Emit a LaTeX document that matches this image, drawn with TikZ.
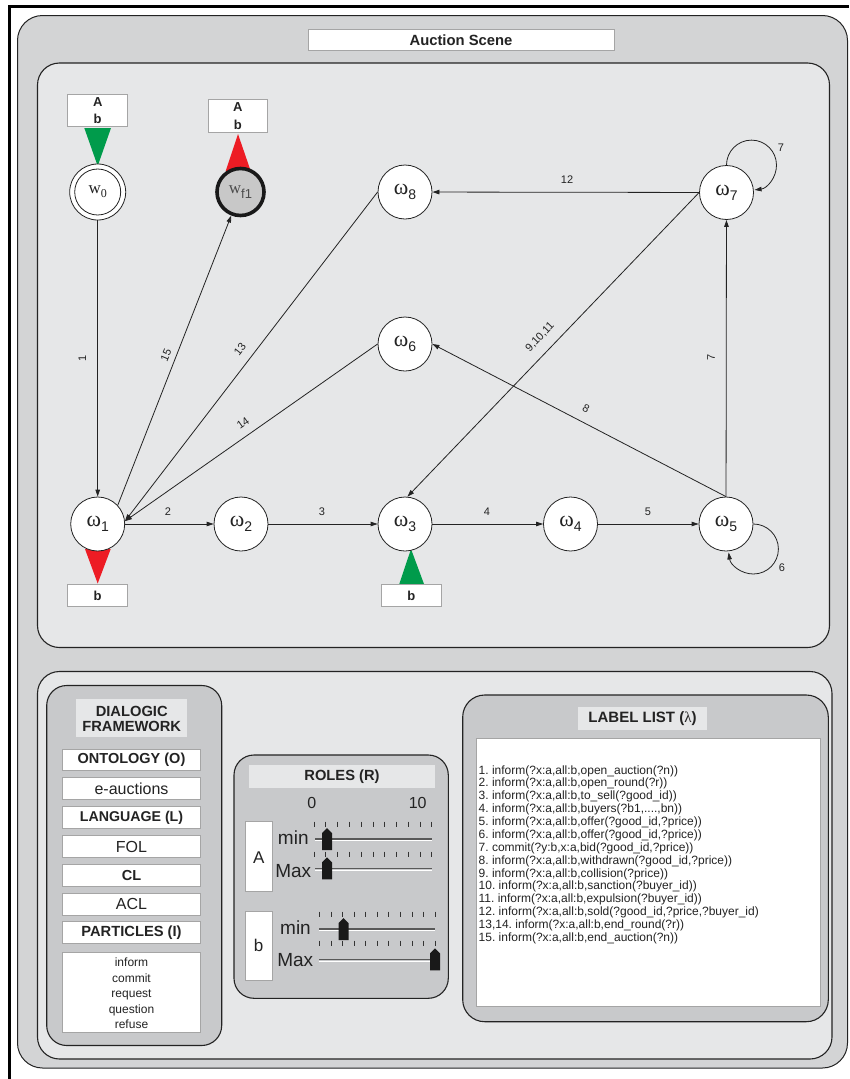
\documentclass[tikz,border=0pt]{standalone}
\usepackage{fontspec}
\setmainfont{Liberation Sans}
\newfontfamily\serifgr{Liberation Serif}
\usetikzlibrary{arrows.meta}
\frenchspacing
\definecolor{outerg}{RGB}{211,212,213}
\definecolor{lightg}{RGB}{230,231,232}
\definecolor{midg}{RGB}{200,201,203}
\definecolor{gfill}{RGB}{0,155,75}
\definecolor{rfill}{RGB}{237,28,36}
\definecolor{wfg}{RGB}{200,200,200}
\definecolor{boxedge}{RGB}{165,165,165}
\definecolor{linec}{RGB}{35,35,35}
\newcommand\omg[1]{{\serifgr\fontsize{22}{22}\selectfont ω}\raisebox{-5pt}{\fontsize{14}{14}\selectfont #1}}
\newcommand\sliderthumb[2]{\fill[black!90] (#1-5,#2+11) -- (#1-5,#2-6) -- (#1,#2-11) -- (#1+5,#2-6) -- (#1+5,#2+11) -- cycle;}
\begin{document}
\begin{tikzpicture}[x=1pt,y=-1pt,
  panel/.style={draw=linec, line width=1.1pt, rounded corners=22pt},
  wbox/.style={draw=boxedge, fill=white, line width=0.8pt},
  tbox/.style={fill=lightg},
  state/.style={circle, draw=linec, fill=white, line width=0.8pt, minimum size=54pt, inner sep=0pt, text=linec},
  edge/.style={draw=linec, line width=0.8pt, -{Triangle[length=7pt,width=4.5pt]}},
  elab/.style={font=\fontsize{11}{11}\selectfont, inner sep=0pt, text=linec},
  bold/.style={font=\bfseries\fontsize{#1}{#1}\selectfont, inner sep=0pt, text=linec},
  reg/.style={font=\fontsize{#1}{#1}\selectfont, inner sep=0pt, text=linec},
  track/.style={draw=black!65, line width=1.2pt},
  tick/.style={draw=black!80, line width=0.7pt}
]
\path[use as bounding box] (0,0) rectangle (849,1079);
% frame
\draw[line width=3pt] (9.5,1079) -- (9.5,6) -- (849,6);
% panels
\draw[panel, fill=outerg, line width=1pt, rounded corners=25pt] (17.5,15.5) rectangle (847.5,1068);
\draw[wbox] (308.5,29) rectangle (614,50.5);
\node[bold=14.8] (title) at (461,40) {Auction Scene};
\draw[panel, fill=lightg] (37.5,63) rectangle (829.5,647.5);
\draw[panel, fill=lightg] (37.5,671.5) rectangle (832,1059);

% role label boxes and triangles
\fill[gfill] (84.3,128) -- (111,128) -- (97.7,166) -- cycle;
\draw[wbox] (67.7,94) rectangle (127.7,126.7);
\node[bold=13] (a0) at (97.7,101.7) {A};
\node[bold=13] (b0) at (97.7,118.7) {b};
\fill[rfill] (225.7,171) -- (250.7,171) -- (238,134) -- cycle;
\draw[wbox] (208,99) rectangle (267.7,132.7);
\node[bold=13] (af) at (237.8,107.3) {A};
\node[bold=13] (bf) at (237.8,124.5) {b};
\fill[rfill] (85,549) -- (110.7,549) -- (97.7,583.5) -- cycle;
\draw[wbox] (67.7,584) rectangle (127.7,606.7);
\node[bold=13] (b1) at (97.7,595.5) {b};
\fill[gfill] (399.3,584) -- (424,584) -- (411,549) -- cycle;
\draw[wbox] (381.7,584) rectangle (441,606.7);
\node[bold=13] (b3) at (411.3,595.5) {b};

% states
\node[state, minimum size=56pt] (w0) at (97.7,192) {};
\node[state, minimum size=46pt] (w0i) at (97.7,192) {{\serifgr\fontsize{17}{17}\selectfont w\raisebox{-4pt}{\fontsize{12}{12}\selectfont 0}}};
\node[state, fill=wfg, line width=3.6pt, draw=black!90, minimum size=47pt, text=black!70] (wf1) at (240.5,192) {{\serifgr\fontsize{17}{17}\selectfont w}\raisebox{-5pt}{\fontsize{13}{13}\selectfont f1}};
\node[state] (w8) at (405,192) {\omg{8}};
\node[state] (w7) at (726.5,192.5) {\omg{7}};
\node[state] (w6) at (405,344) {\omg{6}};
\node[state] (w1) at (97.7,524) {\omg{1}};
\node[state] (w2) at (241,524) {\omg{2}};
\node[state] (w3) at (405,524) {\omg{3}};
\node[state] (w4) at (570.5,524) {\omg{4}};
\node[state] (w5) at (726,524) {\omg{5}};

% edges
\draw[edge] (w0) -- (w1);
\draw[edge] (w1.43) -- (wf1);
\draw[edge] (w8.west) -- (w1.6);
\draw[edge] (w6.west) -- (w1.6);
\draw[edge] (w1) -- (w2);
\draw[edge] (w2) -- (w3);
\draw[edge] (w3) -- (w4);
\draw[edge] (w4) -- (w5);
\draw[edge] (w5) -- (w7);
\draw[edge] (w5.north) -- (w6.east);
\draw[edge] (w7.west) -- (w3.85);
\draw[edge] (w7) -- (w8);
\draw[edge] (w5.east) arc[start angle=-90, end angle=172, radius=25];
\draw[edge] (w7.north) arc[start angle=180, end angle=443, radius=25];

% edge labels
\node[elab, rotate=90] (e1) at (82.3,358) {1};
\node[elab, rotate=67] (e15) at (166,355) {15};
\node[elab, rotate=52] (e13) at (240,349) {13};
\node[elab, rotate=35] (e14) at (243,423) {14};
\node[elab, rotate=46] (e9) at (540,337) {9,10,11};
\node[elab, rotate=-27.5] (e8) at (586,409) {8};
\node[elab, rotate=90] (e7) at (711,357) {7};
\node[elab] (e12) at (567,180) {12};
\node[elab] (e2) at (168,512) {2};
\node[elab] (e3) at (322,512) {3};
\node[elab] (e4) at (487,512) {4};
\node[elab] (e5) at (648,512) {5};
\node[elab] (e7l) at (781,148) {7};
\node[elab] (e6l) at (782,568) {6};

% dialogic framework
\draw[panel, fill=midg, rounded corners=20pt] (46.7,685.5) rectangle (221.7,1045.5);
\fill[tbox] (76,699.3) rectangle (187.3,736.7);
\node[bold=14.7, align=center] (dft) at (131.7,719) {DIALOGIC\\[-0.5pt]FRAMEWORK};
\draw[wbox] (62.3,749) rectangle (200.7,770.7);
\node[bold=14.5] (ont) at (131.5,760) {ONTOLOGY (O)};
\draw[wbox] (62.3,777.7) rectangle (200.7,799.3);
\node[reg=16] (eauc) at (131.5,788.5) {e-auctions};
\draw[wbox] (62.3,806.7) rectangle (200.7,828.3);
\node[bold=14.2] (lang) at (131.5,817.5) {LANGUAGE (L)};
\draw[wbox] (62.3,835.7) rectangle (200.7,857.3);
\node[reg=16] (fol) at (131.5,846.5) {FOL};
\draw[wbox] (62.3,864.3) rectangle (200.7,886);
\node[bold=14.5] (cl) at (131.5,875.2) {CL};
\draw[wbox] (62.3,893.3) rectangle (200.7,915);
\node[reg=16] (acl) at (131.5,904.2) {ACL};
\draw[wbox] (62.3,921.7) rectangle (200.7,943.3);
\node[bold=14.7] (part) at (131.5,932.5) {PARTICLES (I)};
\draw[wbox] (62.3,952.7) rectangle (200.7,1032.7);
\begin{scope}[every node/.style={reg=12, anchor=base}]
\node (p1) at (131.5,966.6) {inform};
\node (p2) at (131.5,982.1) {commit};
\node (p3) at (131.5,997.6) {request};
\node (p4) at (131.5,1013.1) {question};
\node (p5) at (131.5,1028.6) {refuse};
\end{scope}

% roles
\draw[panel, fill=midg, rounded corners=20pt] (234,755) rectangle (448.3,998.3);
\fill[tbox] (249,765) rectangle (435,788.3);
\node[bold=14.7] (rt) at (342,776.7) {ROLES (R)};
\node[reg=16] (s0) at (311.7,803.3) {0};
\node[reg=16] (s10) at (417.7,803.3) {10};
\draw[wbox] (245,821.7) rectangle (272.3,891);
\node[reg=17] (ra) at (258.7,858) {A};
\draw[wbox] (245,911) rectangle (272.3,980);
\node[reg=17] (rb) at (258.7,945) {b};
\node[reg=19] (amin) at (293.3,838) {min};
\node[reg=19] (amax) at (293.3,871) {Max};
\node[reg=19] (bmin) at (295.5,928) {min};
\node[reg=19] (bmax) at (295.3,960) {Max};
\foreach \i in {0,...,10} {
  \draw[tick] (314+\i*11.77,821.5) -- ++(0,5);
  \draw[tick] (314+\i*11.77,851.5) -- ++(0,5);
  \draw[tick] (319.3+\i*11.57,911.5) -- ++(0,5);
  \draw[tick] (319.3+\i*11.57,940.5) -- ++(0,5);
}
\draw[track] (315,839) -- (432,839);
\draw[white, line width=0.7pt] (315,840.6) -- (432,840.6);
\draw[track] (315,868.3) -- (432,868.3);
\draw[white, line width=0.7pt] (315,869.9) -- (432,869.9);
\draw[track] (319,929) -- (435,929);
\draw[white, line width=0.7pt] (319,930.6) -- (435,930.6);
\draw[track] (319,959.3) -- (435,959.3);
\draw[white, line width=0.7pt] (319,960.9) -- (435,960.9);
\sliderthumb{327}{839}
\sliderthumb{327}{868.3}
\sliderthumb{343.5}{929}
\sliderthumb{435}{959.3}

% label list
\draw[panel, fill=midg, rounded corners=22pt] (462.7,695) rectangle (828.3,1021.7);
\fill[tbox] (578.3,706.7) rectangle (706.7,730);
\node[bold=15] (llt) at (642.5,718.3) {LABEL LIST ({\serifgr\mdseries λ})};
\draw[wbox] (476,738.3) rectangle (820,1006.7);
\begin{scope}[every node/.style={reg=12, anchor=base west}]
\node (l1) at (478.5,774.1) {1. inform(?x:a,all:b,open\_auction(?n))};
\node (l2) at (478.5,786.97) {2. inform(?x:a,all:b,open\_round(?r))};
\node (l3) at (478.5,799.84) {3. inform(?x:a,all:b,to\_sell(?good\_id))};
\node (l4) at (478.5,812.71) {4. inform(?x:a,all:b,buyers(?b1,....,bn))};
\node (l5) at (478.5,825.58) {5. inform(?x:a,all:b,offer(?good\_id,?price))};
\node (l6) at (478.5,838.45) {6. inform(?x:a,all:b,offer(?good\_id,?price))};
\node (l7) at (478.5,851.32) {7. commit(?y:b,x:a,bid(?good\_id,?price))};
\node (l8) at (478.5,864.19) {8. inform(?x:a,all:b,withdrawn(?good\_id,?price))};
\node (l9) at (478.5,877.06) {9. inform(?x:a,all:b,collision(?price))};
\node (l10) at (478.5,889.93) {10. inform(?x:a,all:b,sanction(?buyer\_id))};
\node (l11) at (478.5,902.8) {11. inform(?x:a,all:b,expulsion(?buyer\_id))};
\node (l12) at (478.5,915.67) {12. inform(?x:a,all:b,sold(?good\_id,?price,?buyer\_id)};
\node (l13) at (478.5,928.54) {13,14. inform(?x:a,all:b,end\_round(?r))};
\node (l15) at (478.5,941.41) {15. inform(?x:a,all:b,end\_auction(?n))};
\end{scope}
\end{tikzpicture}
\end{document}
